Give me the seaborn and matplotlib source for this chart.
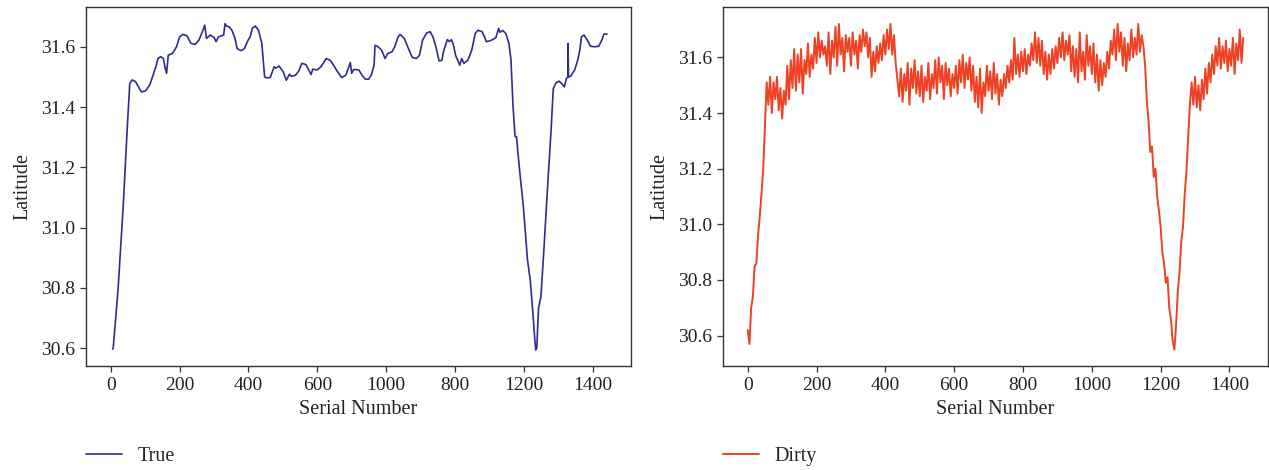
import matplotlib
matplotlib.use("Agg")
import matplotlib.pyplot as plt
import seaborn as sns
import numpy as np
import pandas as pd

sns.set_theme(context="notebook", style="ticks")
plt.rcParams['font.family'] = ['Liberation Serif', 'DejaVu Serif']

# --- data ---
true_serial = [5, 7, 21, 36, 48, 55, 62, 72, 83, 89, 101, 113, 131, 137, 145, 153, 157, 162,
               167, 179, 191, 200, 209, 221, 233, 245, 256, 268, 273, 278, 289, 300, 306, 313,
               328, 332, 336, 344, 352, 361, 367, 379, 388, 399, 405, 411, 420, 429, 439, 447,
               453, 463, 475, 479, 489, 501, 510, 519, 525, 537, 546, 555, 567, 575, 582, 587,
               599, 611, 626, 638, 650, 659, 671, 683, 692, 696, 700, 706, 721, 730, 739, 749,
               757, 765, 768, 777, 787, 797, 805, 817, 825, 835, 841, 853, 865, 876, 888, 897,
               906, 918, 928, 936, 945, 954, 962, 968, 978, 984, 990, 996, 1002, 1014, 1020,
               1026, 1038, 1049, 1059, 1067, 1079, 1088, 1091, 1103, 1119, 1127, 1131, 1139,
               1148, 1157, 1163, 1169, 1175, 1179, 1187, 1199, 1211, 1219, 1226, 1232, 1235,
               1238, 1243, 1250, 1258, 1270, 1279, 1286, 1294, 1303, 1310, 1318, 1324, 1329,
               1329, 1330, 1336, 1348, 1357, 1363, 1368, 1375, 1385, 1394, 1406, 1418, 1427,
               1433, 1442]
true_lat = [30.597, 30.600, 30.794, 31.070, 31.335, 31.478, 31.490, 31.484, 31.462, 31.450,
            31.454, 31.473, 31.534, 31.561, 31.567, 31.561, 31.534, 31.512, 31.572, 31.578,
            31.600, 31.633, 31.641, 31.637, 31.611, 31.608, 31.622, 31.655, 31.672, 31.628,
            31.639, 31.631, 31.617, 31.633, 31.639, 31.677, 31.669, 31.666, 31.655, 31.628,
            31.594, 31.587, 31.594, 31.622, 31.633, 31.661, 31.669, 31.655, 31.611, 31.500,
            31.497, 31.498, 31.534, 31.529, 31.536, 31.517, 31.489, 31.509, 31.502, 31.506,
            31.519, 31.545, 31.541, 31.523, 31.508, 31.526, 31.523, 31.534, 31.561, 31.555,
            31.534, 31.517, 31.498, 31.506, 31.534, 31.548, 31.512, 31.525, 31.523, 31.506,
            31.493, 31.492, 31.506, 31.539, 31.605, 31.600, 31.589, 31.561, 31.578, 31.583,
            31.600, 31.633, 31.641, 31.628, 31.594, 31.565, 31.561, 31.572, 31.622, 31.646,
            31.650, 31.633, 31.600, 31.553, 31.555, 31.589, 31.624, 31.617, 31.624, 31.605,
            31.572, 31.539, 31.561, 31.545, 31.556, 31.589, 31.644, 31.655, 31.650, 31.628,
            31.617, 31.620, 31.630, 31.661, 31.648, 31.654, 31.644, 31.611, 31.556, 31.401,
            31.302, 31.302, 31.202, 31.070, 30.893, 30.826, 30.727, 30.633, 30.594, 30.600,
            30.733, 30.771, 30.915, 31.147, 31.313, 31.462, 31.481, 31.486, 31.478, 31.467,
            31.495, 31.500, 31.611, 31.500, 31.502, 31.523, 31.556, 31.589, 31.633, 31.639,
            31.622, 31.602, 31.600, 31.602, 31.622, 31.642, 31.642]

dirty_serial = list(range(0, 1441, 5))
dirty_lat = [
    30.62, 30.57, 30.70, 30.74, 30.85, 30.86, 30.96, 31.03, 31.11, 31.20,
    31.35, 31.51, 31.43, 31.53, 31.40, 31.51, 31.45, 31.53, 31.41, 31.49,
    31.38, 31.48, 31.43, 31.57, 31.45, 31.59, 31.49, 31.63, 31.48, 31.61,
    31.51, 31.63, 31.47, 31.59, 31.54, 31.65, 31.53, 31.61, 31.56, 31.67,
    31.58, 31.69, 31.60, 31.66, 31.61, 31.64, 31.57, 31.69, 31.54, 31.66,
    31.60, 31.71, 31.57, 31.72, 31.61, 31.67, 31.55, 31.68, 31.62, 31.67,
    31.57, 31.69, 31.61, 31.66, 31.56, 31.68, 31.62, 31.70, 31.64, 31.69,
    31.60, 31.67, 31.53, 31.62, 31.55, 31.64, 31.58, 31.65, 31.59, 31.68,
    31.61, 31.70, 31.63, 31.72, 31.61, 31.68, 31.58, 31.52, 31.46, 31.56,
    31.44, 31.54, 31.48, 31.58, 31.43, 31.56, 31.49, 31.59, 31.47, 31.55,
    31.46, 31.57, 31.44, 31.53, 31.48, 31.58, 31.45, 31.54, 31.49, 31.59,
    31.47, 31.60, 31.51, 31.57, 31.45, 31.58, 31.50, 31.56, 31.46, 31.54,
    31.49, 31.57, 31.47, 31.59, 31.51, 31.61, 31.49, 31.58, 31.52, 31.60,
    31.48, 31.57, 31.44, 31.53, 31.42, 31.56, 31.40, 31.51, 31.46, 31.57,
    31.48, 31.55, 31.45, 31.58, 31.47, 31.54, 31.43, 31.52, 31.46, 31.54,
    31.49, 31.57, 31.51, 31.59, 31.52, 31.67, 31.54, 31.61, 31.53, 31.62,
    31.55, 31.63, 31.54, 31.61, 31.57, 31.65, 31.59, 31.69, 31.58, 31.67,
    31.57, 31.66, 31.54, 31.62, 31.52, 31.61, 31.54, 31.63, 31.56, 31.64,
    31.58, 31.67, 31.60, 31.69, 31.59, 31.66, 31.61, 31.68, 31.55, 31.64,
    31.53, 31.63, 31.51, 31.69, 31.55, 31.62, 31.52, 31.68, 31.57, 31.64,
    31.54, 31.65, 31.51, 31.61, 31.48, 31.59, 31.50, 31.58, 31.53, 31.62,
    31.56, 31.66, 31.61, 31.70, 31.59, 31.72, 31.62, 31.69, 31.57, 31.67,
    31.55, 31.65, 31.59, 31.70, 31.60, 31.67, 31.61, 31.72, 31.62, 31.68,
    31.64, 31.57, 31.44, 31.37, 31.26, 31.28, 31.17, 31.20, 31.10, 31.05,
    30.99, 30.90, 30.86, 30.79, 30.81, 30.70, 30.66, 30.58, 30.55, 30.64,
    30.76, 30.83, 30.94, 30.99, 31.11, 31.19, 31.31, 31.43, 31.51, 31.43,
    31.53, 31.42, 31.50, 31.41, 31.52, 31.45, 31.56, 31.47, 31.58, 31.51,
    31.61, 31.54, 31.64, 31.57, 31.67, 31.56, 31.64, 31.58, 31.66, 31.55,
    31.63, 31.57, 31.67, 31.54, 31.65, 31.59, 31.70, 31.58, 31.67]

xtick_pos = [0, 200, 400, 600, 800, 1000, 1200, 1400]
left_xtick_labels = ['0', '200', '400', '600', '1000', '800', '1200', '1400']
right_xtick_labels = ['0', '200', '400', '600', '800', '1000', '1200', '1400']
ytick_pos = [30.6, 30.8, 31.0, 31.2, 31.4, 31.6]

df_true = pd.DataFrame({'Serial Number': true_serial, 'Latitude': true_lat})
df_dirty = pd.DataFrame({'Serial Number': dirty_serial, 'Latitude': dirty_lat})

fig = plt.figure(figsize=(12.69, 4.70), dpi=100)
ax1 = fig.add_axes([0.0678, 0.2213, 0.4295, 0.7638])
ax2 = fig.add_axes([0.5697, 0.2213, 0.4295, 0.7638])

# estimator=None keeps the repeated serial (the spike near 1330) as drawn
sns.lineplot(data=df_true, x='Serial Number', y='Latitude', ax=ax1,
             color='#2E2C8E', linewidth=1.2, label='True', sort=False, estimator=None)
sns.lineplot(data=df_dirty, x='Serial Number', y='Latitude', ax=ax2,
             color='#EF4123', linewidth=1.4, label='Dirty', sort=False, estimator=None)

panels = [(ax1, left_xtick_labels, (30.541, 31.732)),
          (ax2, right_xtick_labels, (30.491, 31.781))]
for ax, labels, ylim in panels:
    ax.set_xlim(-72, 1512)
    ax.set_ylim(*ylim)
    ax.set_xticks(xtick_pos)
    ax.set_xticklabels(labels)
    ax.set_yticks(ytick_pos)
    ax.set_yticklabels(['{:.1f}'.format(v) for v in ytick_pos])
    ax.tick_params(direction='out', length=4, width=0.9, colors='#333333',
                   labelsize=14, labelcolor='#222222', pad=4)
    for s in ax.spines.values():
        s.set_visible(True)
        s.set_color('#333333')
        s.set_linewidth(1.0)
    ax.set_xlabel('Serial Number', fontsize=14.5, color='#222222', labelpad=4)
    ax.set_ylabel('Latitude', fontsize=14.5, color='#222222', labelpad=6)
    ax.legend(loc='center left', bbox_to_anchor=(0.0, -0.253), frameon=False,
              fontsize=14.5, handlelength=1.8, handletextpad=0.75,
              borderaxespad=0, borderpad=0)

fig.savefig('out.png', dpi=100)
